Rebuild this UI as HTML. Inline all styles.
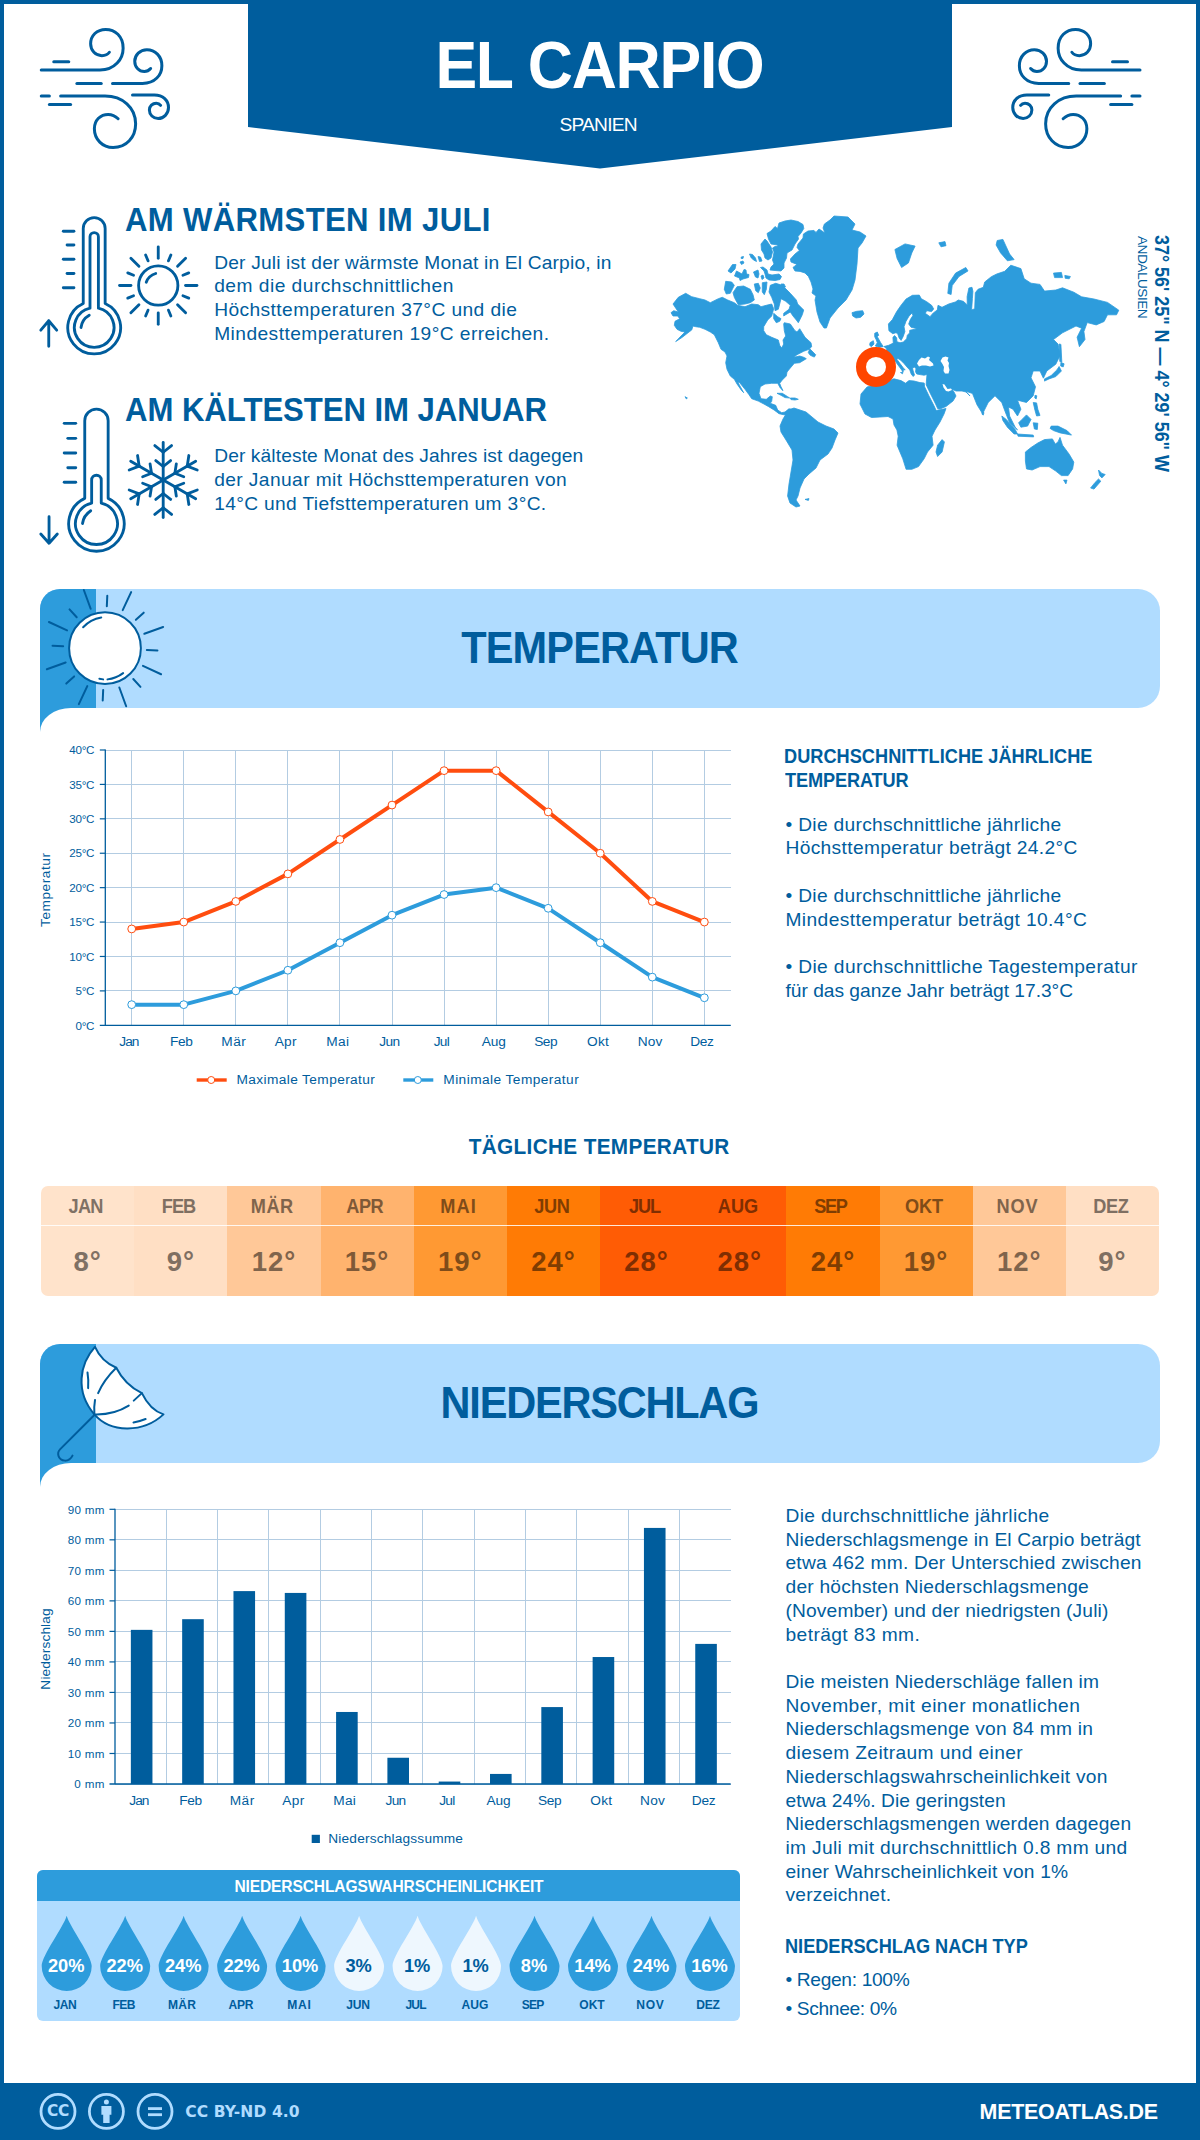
<!DOCTYPE html>
<html lang="de"><head><meta charset="utf-8"><title>El Carpio – Klima</title><style>
html,body{margin:0;padding:0;background:#fff}
body{width:1200px;height:2140px;overflow:hidden;font-family:"Liberation Sans", sans-serif;color:#005d9d}
#page{position:relative;width:1200px;height:2140px;overflow:hidden;background:#fff}
#frame{position:absolute;left:0;top:0;width:1200px;height:2140px;box-sizing:border-box;border:4px solid #005d9d;pointer-events:none}
.abs{position:absolute}
.t{position:absolute;width:0;height:0}
.t span{position:absolute;white-space:pre;line-height:1;display:block}
</style></head><body><div id="page">
<svg class="abs" style="left:0;top:0" width="1200" height="180" viewBox="0 0 1200 180"><polygon points="248,0 952,0 952,127 600,168.5 248,127" fill="#005d9d"/></svg>
<svg class="abs" style="left:30px;top:20px" width="150" height="140" viewBox="0 0 1200 1120"><g fill="none" stroke="#005d9d" stroke-width="24" stroke-linecap="round" stroke-linejoin="round"><path d="M190,333 L310,333"/><path d="M90,400 L560,400 C680,400 745,310 745,225 C745,130 680,75 605,75 C535,75 485,125 485,190 C485,245 525,285 575,285 C605,285 625,272 635,258"/><path d="M375,507 L570,507"/><path d="M660,507 L900,507 C1000,507 1055,440 1055,365 C1055,290 1000,238 935,238 C880,238 838,280 838,330 C838,375 870,412 915,412 C940,412 955,400 965,388"/><path d="M90,608 L155,608"/><path d="M245,608 L600,608 C740,608 845,700 845,830 C845,940 770,1020 665,1020 C580,1020 515,955 515,870 C515,800 565,755 625,755 C660,755 685,770 705,790"/><path d="M155,675 L325,675"/><path d="M820,600 L995,600 C1065,600 1108,645 1108,700 C1108,750 1070,788 1025,788 C985,788 955,757 955,720 C955,690 980,665 1010,665 C1025,665 1038,673 1045,683"/></g></svg>
<svg class="abs" style="left:1000px;top:20px" width="150" height="140" viewBox="0 0 1200 1120"><g transform="translate(1210,0) scale(-1,1)" fill="none" stroke="#005d9d" stroke-width="24" stroke-linecap="round" stroke-linejoin="round"><path d="M190,333 L310,333"/><path d="M90,400 L560,400 C680,400 745,310 745,225 C745,130 680,75 605,75 C535,75 485,125 485,190 C485,245 525,285 575,285 C605,285 625,272 635,258"/><path d="M375,507 L570,507"/><path d="M660,507 L900,507 C1000,507 1055,440 1055,365 C1055,290 1000,238 935,238 C880,238 838,280 838,330 C838,375 870,412 915,412 C940,412 955,400 965,388"/><path d="M90,608 L155,608"/><path d="M245,608 L600,608 C740,608 845,700 845,830 C845,940 770,1020 665,1020 C580,1020 515,955 515,870 C515,800 565,755 625,755 C660,755 685,770 705,790"/><path d="M155,675 L325,675"/><path d="M820,600 L995,600 C1065,600 1108,645 1108,700 C1108,750 1070,788 1025,788 C985,788 955,757 955,720 C955,690 980,665 1010,665 C1025,665 1038,673 1045,683"/></g></svg>
<svg class="abs" style="left:30px;top:200px" width="180" height="170" viewBox="0 0 1200 1133.33"><g fill="none" stroke="#005d9d" stroke-width="19" stroke-linecap="round" stroke-linejoin="round"><path d="M355,689.8531923515177 L355,190 A73,73 0 0 1 501,190 L501,689.8531923515177 A176,176 0 1 1 355,689.8531923515177 Z"/><path d="M400,721.0038760272232 L400,245 A28,28 0 0 1 456,245 L456,721.0038760272232 A132,132 0 1 1 400,721.0038760272232 Z"/><path d="M222,208 L293,208"/><path d="M247,300 L293,300"/><path d="M222,395 L293,395"/><path d="M247,490 L293,490"/><path d="M222,585 L293,585"/><path d="M125,975 L125,805 M72,868 L125,805 L178,868"/><path d="M340,850 C345,810 365,785 395,768"/><circle cx="855" cy="570" r="131"/><path d="M775,548 C785,520 805,500 838,490"/><path d="M855.0,388.0 L855.0,312.0"/><path d="M923.1,405.5 L939.2,366.7"/><path d="M983.7,441.3 L1037.4,387.6"/><path d="M1019.5,501.9 L1058.3,485.8"/><path d="M1037.0,570.0 L1113.0,570.0"/><path d="M1019.5,638.1 L1058.3,654.2"/><path d="M983.7,698.7 L1037.4,752.4"/><path d="M923.1,734.5 L939.2,773.3"/><path d="M855.0,752.0 L855.0,828.0"/><path d="M786.9,734.5 L770.8,773.3"/><path d="M726.3,698.7 L672.6,752.4"/><path d="M690.5,638.1 L651.7,654.2"/><path d="M673.0,570.0 L597.0,570.0"/><path d="M690.5,501.9 L651.7,485.8"/><path d="M726.3,441.3 L672.6,387.6"/><path d="M786.9,405.5 L770.8,366.7"/></g></svg>
<svg class="abs" style="left:30px;top:390px" width="180" height="170" viewBox="0 0 1200 1133.33"><g fill="none" stroke="#005d9d" stroke-width="19" stroke-linecap="round" stroke-linejoin="round"><path d="M365,722.2472056864626 L365,205 A78,78 0 0 1 521,205 L521,722.2472056864626 A185,185 0 1 1 365,722.2472056864626 Z"/><path d="M411,753.7061997007934 L411,600 A32,32 0 0 1 475,600 L475,753.7061997007934 A140,140 0 1 1 411,753.7061997007934 Z"/><path d="M228,222 L305,222"/><path d="M252,322 L305,322"/><path d="M228,420 L305,420"/><path d="M252,518 L305,518"/><path d="M228,615 L305,615"/><path d="M127,845 L127,1020 M72,960 L127,1022 L182,960"/><path d="M350,890 C355,850 375,825 405,805"/><path d="M888,600 L888.0,350.0"/><path d="M888.0,415.0 L832.2,370.4"/><path d="M888.0,415.0 L943.8,370.4"/><path d="M888.0,510.0 L838.5,470.4"/><path d="M888.0,510.0 L937.5,470.4"/><path d="M888,600 L1104.5,475.0"/><path d="M1048.2,507.5 L1059.0,436.9"/><path d="M1048.2,507.5 L1114.8,533.5"/><path d="M965.9,555.0 L975.5,492.3"/><path d="M965.9,555.0 L1025.0,578.1"/><path d="M888,600 L1104.5,725.0"/><path d="M1048.2,692.5 L1114.8,666.5"/><path d="M1048.2,692.5 L1059.0,763.1"/><path d="M965.9,645.0 L1025.0,621.9"/><path d="M965.9,645.0 L975.5,707.7"/><path d="M888,600 L888.0,850.0"/><path d="M888.0,785.0 L943.8,829.6"/><path d="M888.0,785.0 L832.2,829.6"/><path d="M888.0,690.0 L937.5,729.6"/><path d="M888.0,690.0 L838.5,729.6"/><path d="M888,600 L671.5,725.0"/><path d="M727.8,692.5 L717.0,763.1"/><path d="M727.8,692.5 L661.2,666.5"/><path d="M810.1,645.0 L800.5,707.7"/><path d="M810.1,645.0 L751.0,621.9"/><path d="M888,600 L671.5,475.0"/><path d="M727.8,507.5 L661.2,533.5"/><path d="M727.8,507.5 L717.0,436.9"/><path d="M810.1,555.0 L751.0,578.1"/><path d="M810.1,555.0 L800.5,492.3"/></g></svg>
<svg class="abs" style="left:0;top:0" width="1200" height="560" viewBox="0 0 1200 560"><g fill="#2d9cdc" stroke="#2d9cdc" stroke-width="0.8" stroke-linejoin="round"><polygon points="671.0,312.7 673.7,310.7 678.3,312.0 673.0,304.0 678.3,297.3 685.7,293.3 691.7,296.7 699.7,298.7 705.0,300.0 710.3,302.7 718.3,298.7 722.3,297.3 727.7,300.0 734.3,302.7 737.7,305.3 745.0,306.7 751.7,304.0 758.3,304.7 761.0,306.7 766.3,305.3 771.7,304.0 773.7,308.7 771.7,316.0 767.7,320.0 763.7,326.7 763.7,330.7 766.3,334.7 771.7,337.3 778.3,340.0 779.7,345.3 781.7,348.0 783.7,344.0 783.0,340.0 785.7,336.0 784.3,330.7 783.7,324.0 784.3,322.7 790.3,324.0 795.0,330.7 797.0,332.0 799.7,328.7 805.0,337.3 811.0,342.7 811.7,346.7 809.0,349.3 803.7,351.3 797.0,354.7 793.7,357.3 799.7,356.0 803.7,357.3 806.3,358.7 799.7,362.7 794.3,363.3 790.3,368.0 787.0,372.0 786.3,376.0 782.3,380.0 779.7,383.3 781.0,386.7 783.0,390.7 780.3,388.0 777.7,383.3 771.7,383.3 765.0,384.0 760.3,386.7 759.0,393.3 761.0,398.7 766.3,399.3 770.3,396.0 772.3,396.7 771.7,401.3 770.3,403.3 775.7,405.3 777.7,410.0 781.7,412.7 785.0,412.0 789.0,408.7 793.0,410.0 787.7,414.9 783.7,414.7 779.0,413.7 774.1,410.0 768.7,406.7 763.9,404.0 758.3,401.1 751.7,398.7 749.0,394.7 745.0,389.3 739.7,382.7 737.7,382.0 743.7,392.7 741.7,390.7 737.0,384.0 734.3,379.3 730.3,376.0 727.0,369.3 725.7,362.7 727.0,356.0 725.0,352.0 721.0,349.3 718.3,342.7 714.3,334.7 710.3,332.0 705.0,329.3 699.7,327.3 695.7,326.7 693.0,326.0 691.7,330.0 689.0,332.0 682.3,337.3 675.7,341.6 681.0,336.0 685.0,332.0 681.0,331.3 677.0,329.3 674.3,325.3 675.0,321.3 679.7,318.7 677.7,316.0 673.0,316.0"/><polygon points="809.7,348.7 813.0,352.0 815.7,354.7 814.3,357.1 810.3,355.3 808.3,352.7"/><polygon points="733.0,292.7 737.0,286.7 743.7,286.0 750.3,289.3 753.0,294.7 754.3,300.0 750.3,302.7 745.0,304.0 738.3,304.7 735.7,300.0 734.3,297.3"/><polygon points="725.7,281.3 731.7,282.0 734.3,285.3 730.3,293.3 726.3,294.0 724.3,289.3"/><polygon points="754.3,284.0 758.3,283.3 760.3,288.0 758.3,292.7 755.7,290.7"/><polygon points="762.3,282.7 767.0,282.0 766.3,289.3 764.3,294.7 762.3,292.0"/><polygon points="770.3,285.3 775.7,283.3 782.3,285.3 785.0,288.0 790.3,293.3 796.3,300.0 797.7,304.0 803.7,310.0 802.3,314.7 799.7,320.0 798.3,322.7 796.3,320.0 793.0,316.0 790.3,312.0 785.7,314.7 783.7,316.0 783.7,313.3 789.0,309.3 790.3,305.3 785.7,301.3 781.0,298.7 779.7,304.0 778.3,309.3 775.0,310.7 774.3,304.0 771.7,297.3 769.0,292.0"/><polygon points="773.7,313.3 777.7,316.7 781.0,318.7 779.7,321.3 776.3,322.7 773.7,318.7"/><polygon points="777.0,393.3 782.3,393.3 787.7,396.7 789.7,398.0 785.0,397.6 781.0,395.3"/><polygon points="790.3,398.0 795.0,398.0 798.3,399.3 795.0,400.0 791.0,399.6"/><polygon points="685.0,396.7 687.4,398.0 686.3,398.9"/><polygon points="767.0,233.5 771.0,231.0 775.0,226.5 777.5,228.5 779.0,223.0 785.0,221.0 791.0,220.0 798.0,221.5 803.0,224.5 803.8,228.5 801.0,233.0 798.0,236.5 798.5,239.0 795.0,244.0 792.0,250.0 787.0,253.0 786.5,258.0 784.0,263.0 784.0,268.0 781.0,271.0 775.0,270.5 770.0,270.0 771.0,267.0 774.0,264.0 772.5,260.0 773.5,255.0 774.0,252.0 772.5,248.0 775.0,246.5 778.0,246.0 777.5,245.0 771.0,244.0 768.5,239.0"/><polygon points="761.0,244.0 765.0,239.0 767.0,241.0 771.0,247.0 772.5,252.0 771.0,258.0 768.0,260.0 765.0,258.0 764.0,254.0 761.5,250.0"/><polygon points="760.5,267.5 763.0,267.0 767.0,270.0 768.0,274.0 772.0,275.0 779.0,274.0 781.5,276.5 780.0,279.5 775.0,280.5 769.0,280.0 766.0,278.0 765.0,274.0 764.0,271.0"/><polygon points="749.5,254.0 752.5,254.5 755.5,258.0 756.5,261.5 753.5,260.0 751.0,257.5"/><polygon points="758.0,256.5 760.5,257.0 762.0,261.0 759.5,261.5"/><polygon points="741.2,257.0 743.5,256.5 743.0,258.5 741.2,258.5"/><polygon points="740.0,262.0 743.0,261.0 744.0,263.0 741.5,264.5"/><polygon points="728.0,271.0 732.5,264.5 736.0,264.5 735.0,269.0 731.0,273.0"/><polygon points="734.5,276.0 736.5,271.0 742.0,274.0 744.0,269.5 746.0,270.0 746.5,274.0 749.0,274.5 748.5,277.5 743.0,279.0 740.0,280.5 739.5,278.0"/><polygon points="753.5,272.0 758.0,270.0 759.0,274.0 758.0,278.0 755.5,277.0"/><polygon points="761.0,276.0 763.0,275.0 764.0,278.0 762.0,279.5"/><polygon points="781.0,284.0 784.0,284.0 785.5,287.0 783.0,287.0"/><polygon points="834.0,216.0 830.0,220.0 824.4,224.0 823.0,228.0 825.0,233.0 819.0,229.0 816.0,232.4 814.0,230.4 808.0,231.0 803.4,234.0 803.0,238.0 798.0,244.0 797.0,247.4 799.4,250.4 795.0,254.0 790.4,259.0 791.0,262.0 797.0,264.4 793.0,267.4 795.0,271.0 800.0,271.4 805.0,273.0 808.4,276.4 811.0,282.0 813.0,289.0 812.0,293.0 816.0,296.0 815.0,300.0 817.0,312.0 820.0,322.0 824.0,328.0 826.4,328.0 830.0,318.0 838.0,308.0 846.0,300.0 852.0,290.0 855.0,280.0 857.0,264.0 858.0,248.0 862.0,243.0 866.0,236.0 860.0,232.0 852.0,230.0 855.0,224.0 848.0,217.0"/><polygon points="852.0,312.7 856.7,311.3 862.7,310.7 864.0,314.0 860.7,317.3 856.0,318.0 852.7,316.0"/><polygon points="788.0,410.0 794.0,408.0 800.0,410.0 806.0,412.0 812.0,417.0 818.0,422.0 826.0,426.0 834.0,429.0 838.0,433.0 835.0,440.0 832.0,448.0 828.0,454.0 820.0,460.0 816.0,468.0 809.0,474.0 804.0,479.0 800.0,488.0 798.0,496.0 796.0,500.0 800.0,506.0 796.0,507.0 790.0,503.0 787.6,496.0 789.0,484.0 791.0,472.0 793.0,460.0 792.0,450.0 786.0,440.0 781.0,432.0 780.0,426.0 783.0,419.0 786.0,414.0"/><polygon points="805.0,499.4 809.0,498.6 808.4,500.4"/><polygon points="886.7,348.9 884.0,346.5 888.7,345.3 893.3,343.1 892.9,337.3 894.7,335.6 896.7,338.0 896.9,341.7 900.0,342.8 903.3,342.0 906.7,338.7 907.3,335.3 909.6,332.9 909.7,330.3 917.3,328.7 911.1,327.3 908.7,324.0 910.3,319.6 912.9,315.6 912.1,312.9 909.1,316.0 906.0,321.3 904.0,326.7 904.9,331.6 903.1,336.7 901.1,340.4 899.1,338.0 897.7,333.7 896.0,332.7 892.7,333.7 888.9,330.7 888.4,324.0 892.4,319.6 896.7,311.6 901.3,304.9 906.0,299.1 912.4,295.3 919.3,295.1 921.3,298.7 926.7,301.7 931.6,305.3 933.7,308.9 931.6,311.6 926.7,310.7 925.3,313.3 930.0,316.7 933.3,312.9 937.3,310.0 938.0,305.3 942.0,307.3 948.7,304.0 955.3,302.0 958.3,300.0 963.3,301.3 967.3,304.9 967.1,296.7 968.9,288.0 972.0,287.3 972.9,291.3 972.4,298.7 971.6,310.0 974.7,308.7 975.3,292.7 978.0,289.3 983.3,287.3 984.7,282.0 991.3,276.7 996.7,274.0 1004.7,271.3 1010.8,265.2 1020.9,268.6 1024.2,278.8 1031.0,283.2 1040.0,284.4 1044.5,291.1 1055.8,290.0 1062.5,287.8 1073.8,292.2 1081.6,296.8 1094.0,299.0 1107.5,302.4 1118.8,310.2 1116.5,314.8 1107.5,314.8 1104.1,321.5 1096.2,324.9 1087.2,322.6 1083.9,331.6 1085.0,339.5 1079.4,346.7 1077.1,337.2 1081.6,328.2 1076.0,326.0 1062.5,332.8 1053.5,339.5 1058.0,344.0 1060.2,355.2 1055.8,364.2 1046.8,371.0 1043.4,378.2 1040.0,371.0 1033.2,371.0 1031.0,377.8 1035.5,386.8 1033.2,395.8 1026.5,402.5 1017.5,400.2 1020.9,409.2 1017.5,416.0 1013.0,409.2 1008.5,407.0 1009.6,416.0 1015.2,427.2 1017.5,429.9 1009.6,422.8 1005.1,411.5 1001.8,402.5 995.0,395.8 988.2,402.5 982.6,413.8 977.0,404.8 972.5,393.5 965.8,391.2 970.0,396.0 966.0,392.0 962.0,391.0 956.0,391.0 952.0,389.2 954.0,392.0 956.0,396.0 953.0,401.0 946.0,406.5 940.0,409.0 937.8,408.8 935.6,404.0 930.6,394.0 926.2,384.8 926.5,380.0 927.0,374.5 924.0,375.2 920.0,374.6 916.8,374.0 915.5,371.8 916.0,368.5 914.5,367.2 912.5,368.0 913.2,371.0 914.5,375.0 913.2,376.5 911.2,374.0 909.8,370.0 907.0,367.0 904.0,363.5 900.5,360.0 898.0,358.5 897.0,359.5 900.0,363.5 903.0,367.5 905.2,370.0 903.5,369.5 903.0,372.0 901.0,369.0 898.0,365.0 895.5,361.5 894.0,360.0 894.0,366.0 890.0,375.3 882.0,378.0 872.7,376.7 870.0,368.7 872.0,360.7 883.3,361.3 886.7,356.7"/><polygon points="883.0,383.0 894.0,378.8 897.0,379.6 901.0,380.6 905.5,383.2 909.0,380.6 914.0,381.0 920.0,382.6 924.2,383.0 924.6,386.8 929.0,396.0 934.0,405.8 936.2,410.6 946.0,408.5 944.0,414.0 940.0,422.0 935.0,430.0 932.0,436.2 933.1,445.2 927.5,452.0 924.1,458.8 918.5,466.6 911.8,469.3 906.1,469.3 902.8,458.8 897.1,445.2 898.2,436.2 896.9,429.9 894.0,425.0 893.0,419.0 888.0,416.5 880.0,417.0 871.5,417.5 865.0,414.0 860.0,404.0 861.0,394.0 867.0,387.0"/><polygon points="942.1,439.6 944.4,441.9 942.1,452.0 937.6,456.5 936.0,452.0 937.6,445.2"/><polygon points="874.7,333.3 877.3,332.0 878.7,335.3 877.3,336.7 880.7,342.7 883.3,346.7 878.7,347.3 875.3,346.0 877.3,342.7 876.0,339.3 874.7,336.7"/><polygon points="870.0,342.7 873.3,340.7 874.0,344.0 871.3,346.7 869.7,345.3"/><polygon points="900.5,372.5 903.0,372.2 902.5,373.8"/><polygon points="894.9,249.5 905.0,243.9 915.1,246.1 911.8,252.9 908.4,263.0 901.6,267.5 897.1,258.5"/><polygon points="938.8,242.8 945.0,241.6 946.0,245.7 941.0,246.8"/><polygon points="965.8,267.5 968.0,270.9 959.0,276.5 952.2,285.5 951.1,294.5 947.8,293.4 948.9,283.2 955.6,273.1"/><polygon points="997.2,240.5 1002.9,239.4 1009.6,254.0 1014.1,259.6 1007.4,260.8 1000.6,252.9 996.1,245.0"/><polygon points="1053.5,273.1 1061.4,272.4 1062.5,277.6 1054.6,277.6"/><polygon points="1064.8,275.4 1070.4,276.5 1069.2,278.8 1065.2,278.3"/><polygon points="1059.1,344.0 1060.9,344.4 1061.8,362.0 1059.8,361.5"/><polygon points="1060.9,362.4 1064.1,363.8 1063.2,366.9 1060.7,366.0"/><polygon points="1059.1,366.5 1061.4,371.0 1055.8,376.6 1049.0,378.9 1044.5,381.1 1044.5,378.9 1051.2,375.5 1056.9,369.9"/><polygon points="1035.0,395.3 1036.8,395.8 1036.2,398.9 1034.8,398.0"/><polygon points="1033.2,402.5 1036.6,402.9 1037.8,409.2 1040.0,415.5 1036.6,416.0 1035.0,410.4"/><polygon points="1026.5,414.9 1031.0,419.4 1027.6,426.1 1020.9,427.2 1018.6,422.8 1022.0,419.4"/><polygon points="1001.8,416.0 1006.2,419.4 1015.2,429.5 1017.5,434.0 1014.1,434.0 1007.4,427.2 1002.9,420.5"/><polygon points="1017.5,434.0 1033.2,435.1 1033.7,436.9 1018.0,436.2"/><polygon points="1033.2,422.8 1037.8,423.2 1037.3,429.5 1034.4,429.0"/><polygon points="1051.2,426.1 1058.0,426.1 1067.0,430.6 1071.5,435.1 1065.9,434.0 1060.2,432.9 1053.5,430.6 1050.1,428.4"/><polygon points="982.2,411.5 984.0,412.6 983.3,415.1 982.0,414.2"/><polygon points="1025.4,452.0 1031.0,447.5 1037.8,443.0 1044.5,439.6 1052.4,438.9 1055.3,444.1 1058.0,441.9 1060.0,437.4 1062.5,445.2 1069.2,454.2 1073.8,462.1 1072.6,468.9 1068.1,475.6 1061.4,475.6 1055.8,471.1 1049.0,466.6 1040.0,466.6 1032.1,470.0 1026.5,468.9 1025.4,461.0"/><polygon points="1063.6,480.1 1067.0,480.1 1065.9,483.9"/><polygon points="1098.5,470.0 1101.9,473.4 1105.2,474.5 1101.9,477.9 1099.6,475.6"/><polygon points="1098.5,479.0 1100.8,481.2 1094.0,489.1 1090.6,488.0 1095.1,482.4"/></g><g fill="#fff"><polygon points="917.0,363.5 919.0,360.0 921.5,357.5 925.0,358.5 928.0,356.5 930.0,357.5 929.0,360.0 933.0,363.5 933.5,365.5 930.0,366.5 926.0,365.5 922.0,365.5 919.0,366.5"/><polygon points="940.5,361.0 942.5,357.5 945.5,356.5 948.5,357.5 947.5,360.5 949.0,363.0 948.5,366.0 949.5,370.0 948.5,373.5 945.0,373.5 943.5,371.0 944.0,367.0 942.5,364.0"/><polygon points="942.5,384.0 944.5,384.5 947.5,389.0 951.0,388.5 952.0,390.0 948.5,391.5 946.0,391.0 943.5,387.5"/></g><circle cx="876" cy="366.9" r="15" fill="#fff" stroke="#ff4500" stroke-width="10"/></svg>
<div class="abs" style="left:40px;top:589px;width:1120px;height:118.75px;background:#b0dcff;border-radius:20px 22px 22px 0"></div><div class="abs" style="left:40px;top:589px;width:56px;height:142.75px;background:#2d9cdc;border-radius:20px 0 0 0"></div><div class="abs" style="left:40px;top:707.75px;width:80px;height:30px;background:#fff;border-radius:31px 0 0 0 / 24px 0 0 0"></div><svg class="abs" style="left:30px;top:580px" width="150" height="160" viewBox="0 0 1200 1280"><g fill="none" stroke="#005d9d" stroke-width="16" stroke-linecap="round"><circle cx="600" cy="545" r="287" fill="#fff"/><path d="M425,378 A255,255 0 0 1 570,300"/><path d="M620,795 A255,255 0 0 0 745,745"/><path d="M555,790 L585,795"/><path d="M614.6,210.3 L618.3,125.4"/><path d="M741.6,241.4 L809.2,96.4"/><path d="M847.0,318.7 L909.7,261.3"/><path d="M914.8,430.4 L1065.1,375.7"/><path d="M934.7,559.6 L1019.6,563.3"/><path d="M903.6,686.6 L1048.6,754.2"/><path d="M826.3,792.0 L883.7,854.7"/><path d="M714.6,859.8 L769.3,1010.1"/><path d="M585.4,879.7 L581.7,964.6"/><path d="M458.4,848.6 L390.8,993.6"/><path d="M353.0,771.3 L290.3,828.7"/><path d="M285.2,659.6 L134.9,714.3"/><path d="M265.3,530.4 L180.4,526.7"/><path d="M296.4,403.4 L151.4,335.8"/><path d="M373.7,298.0 L316.3,235.3"/><path d="M485.4,230.2 L430.7,79.9"/></g></svg>
<div class="abs" style="left:40px;top:1344px;width:1120px;height:118.75px;background:#b0dcff;border-radius:20px 22px 22px 0"></div><div class="abs" style="left:40px;top:1344px;width:56px;height:142.75px;background:#2d9cdc;border-radius:20px 0 0 0"></div><div class="abs" style="left:40px;top:1462.75px;width:80px;height:30px;background:#fff;border-radius:31px 0 0 0 / 24px 0 0 0"></div><svg class="abs" style="left:30px;top:1335px" width="150" height="160" viewBox="0 0 1200 1280"><g fill="none" stroke="#005d9d" stroke-width="16" stroke-linecap="round" stroke-linejoin="round"><path d="M520,95 C398,230 358,452 515,635 C640,780 900,790 1068,635 Q960,600 895,465 Q760,400 690,262 Q570,210 520,95 Z" fill="#fff"/><path d="M690,262 Q590,360 545,465"/><path d="M520,520 Q510,580 515,635"/><path d="M515,635 Q670,640 790,565"/><path d="M830,525 L895,465"/><path d="M460,300 Q470,360 465,425"/><path d="M828,700 Q880,690 925,672"/><path d="M515,640 L240,915 C215,940 220,1000 280,1005 C310,1005 330,985 340,965"/></g></svg>
<svg class="abs" style="left:0;top:0" width="1200" height="2140" viewBox="0 0 1200 2140"><path d="M105.3,1025.30 L730.7,1025.30" stroke="#b3cce2" stroke-width="1" shape-rendering="crispEdges"/><path d="M105.3,990.89 L730.7,990.89" stroke="#b3cce2" stroke-width="1" shape-rendering="crispEdges"/><path d="M105.3,956.47 L730.7,956.47" stroke="#b3cce2" stroke-width="1" shape-rendering="crispEdges"/><path d="M105.3,922.06 L730.7,922.06" stroke="#b3cce2" stroke-width="1" shape-rendering="crispEdges"/><path d="M105.3,887.65 L730.7,887.65" stroke="#b3cce2" stroke-width="1" shape-rendering="crispEdges"/><path d="M105.3,853.24 L730.7,853.24" stroke="#b3cce2" stroke-width="1" shape-rendering="crispEdges"/><path d="M105.3,818.83 L730.7,818.83" stroke="#b3cce2" stroke-width="1" shape-rendering="crispEdges"/><path d="M105.3,784.41 L730.7,784.41" stroke="#b3cce2" stroke-width="1" shape-rendering="crispEdges"/><path d="M105.3,750.00 L730.7,750.00" stroke="#b3cce2" stroke-width="1" shape-rendering="crispEdges"/><path d="M131.70,750 L131.70,1025.3" stroke="#b3cce2" stroke-width="1" shape-rendering="crispEdges"/><path d="M183.76,750 L183.76,1025.3" stroke="#b3cce2" stroke-width="1" shape-rendering="crispEdges"/><path d="M235.82,750 L235.82,1025.3" stroke="#b3cce2" stroke-width="1" shape-rendering="crispEdges"/><path d="M287.88,750 L287.88,1025.3" stroke="#b3cce2" stroke-width="1" shape-rendering="crispEdges"/><path d="M339.94,750 L339.94,1025.3" stroke="#b3cce2" stroke-width="1" shape-rendering="crispEdges"/><path d="M392.00,750 L392.00,1025.3" stroke="#b3cce2" stroke-width="1" shape-rendering="crispEdges"/><path d="M444.06,750 L444.06,1025.3" stroke="#b3cce2" stroke-width="1" shape-rendering="crispEdges"/><path d="M496.12,750 L496.12,1025.3" stroke="#b3cce2" stroke-width="1" shape-rendering="crispEdges"/><path d="M548.18,750 L548.18,1025.3" stroke="#b3cce2" stroke-width="1" shape-rendering="crispEdges"/><path d="M600.24,750 L600.24,1025.3" stroke="#b3cce2" stroke-width="1" shape-rendering="crispEdges"/><path d="M652.30,750 L652.30,1025.3" stroke="#b3cce2" stroke-width="1" shape-rendering="crispEdges"/><path d="M704.36,750 L704.36,1025.3" stroke="#b3cce2" stroke-width="1" shape-rendering="crispEdges"/><path d="M105.3,749.5 L105.3,1025.3 M99.8,1025.3 L730.7,1025.3" stroke="#005d9d" stroke-width="1.3" fill="none"/><path d="M99.8,990.89 L105.3,990.89" stroke="#005d9d" stroke-width="1.2"/><path d="M99.8,956.47 L105.3,956.47" stroke="#005d9d" stroke-width="1.2"/><path d="M99.8,922.06 L105.3,922.06" stroke="#005d9d" stroke-width="1.2"/><path d="M99.8,887.65 L105.3,887.65" stroke="#005d9d" stroke-width="1.2"/><path d="M99.8,853.24 L105.3,853.24" stroke="#005d9d" stroke-width="1.2"/><path d="M99.8,818.83 L105.3,818.83" stroke="#005d9d" stroke-width="1.2"/><path d="M99.8,784.41 L105.3,784.41" stroke="#005d9d" stroke-width="1.2"/><path d="M99.8,750.00 L105.3,750.00" stroke="#005d9d" stroke-width="1.2"/><polyline points="131.70,928.94 183.76,922.06 235.82,901.41 287.88,873.88 339.94,839.47 392.00,805.06 444.06,770.65 496.12,770.65 548.18,811.94 600.24,853.24 652.30,901.41 704.36,922.06" fill="none" stroke="#ff4d0f" stroke-width="4" stroke-linejoin="round"/><circle cx="131.70" cy="928.94" r="3.9" fill="#fff" stroke="#ff4d0f" stroke-width="1"/><circle cx="183.76" cy="922.06" r="3.9" fill="#fff" stroke="#ff4d0f" stroke-width="1"/><circle cx="235.82" cy="901.41" r="3.9" fill="#fff" stroke="#ff4d0f" stroke-width="1"/><circle cx="287.88" cy="873.88" r="3.9" fill="#fff" stroke="#ff4d0f" stroke-width="1"/><circle cx="339.94" cy="839.47" r="3.9" fill="#fff" stroke="#ff4d0f" stroke-width="1"/><circle cx="392.00" cy="805.06" r="3.9" fill="#fff" stroke="#ff4d0f" stroke-width="1"/><circle cx="444.06" cy="770.65" r="3.9" fill="#fff" stroke="#ff4d0f" stroke-width="1"/><circle cx="496.12" cy="770.65" r="3.9" fill="#fff" stroke="#ff4d0f" stroke-width="1"/><circle cx="548.18" cy="811.94" r="3.9" fill="#fff" stroke="#ff4d0f" stroke-width="1"/><circle cx="600.24" cy="853.24" r="3.9" fill="#fff" stroke="#ff4d0f" stroke-width="1"/><circle cx="652.30" cy="901.41" r="3.9" fill="#fff" stroke="#ff4d0f" stroke-width="1"/><circle cx="704.36" cy="922.06" r="3.9" fill="#fff" stroke="#ff4d0f" stroke-width="1"/><polyline points="131.70,1004.65 183.76,1004.65 235.82,990.89 287.88,970.24 339.94,942.71 392.00,915.18 444.06,894.53 496.12,887.65 548.18,908.30 600.24,942.71 652.30,977.12 704.36,997.77" fill="none" stroke="#2d9cdc" stroke-width="4" stroke-linejoin="round"/><circle cx="131.70" cy="1004.65" r="3.9" fill="#fff" stroke="#2d9cdc" stroke-width="1"/><circle cx="183.76" cy="1004.65" r="3.9" fill="#fff" stroke="#2d9cdc" stroke-width="1"/><circle cx="235.82" cy="990.89" r="3.9" fill="#fff" stroke="#2d9cdc" stroke-width="1"/><circle cx="287.88" cy="970.24" r="3.9" fill="#fff" stroke="#2d9cdc" stroke-width="1"/><circle cx="339.94" cy="942.71" r="3.9" fill="#fff" stroke="#2d9cdc" stroke-width="1"/><circle cx="392.00" cy="915.18" r="3.9" fill="#fff" stroke="#2d9cdc" stroke-width="1"/><circle cx="444.06" cy="894.53" r="3.9" fill="#fff" stroke="#2d9cdc" stroke-width="1"/><circle cx="496.12" cy="887.65" r="3.9" fill="#fff" stroke="#2d9cdc" stroke-width="1"/><circle cx="548.18" cy="908.30" r="3.9" fill="#fff" stroke="#2d9cdc" stroke-width="1"/><circle cx="600.24" cy="942.71" r="3.9" fill="#fff" stroke="#2d9cdc" stroke-width="1"/><circle cx="652.30" cy="977.12" r="3.9" fill="#fff" stroke="#2d9cdc" stroke-width="1"/><circle cx="704.36" cy="997.77" r="3.9" fill="#fff" stroke="#2d9cdc" stroke-width="1"/><path d="M196.7,1080 L226.7,1080" stroke="#ff4d0f" stroke-width="3.4"/><circle cx="211.2" cy="1080" r="3.5" fill="#fff" stroke="#ff4d0f" stroke-width="1"/><path d="M403.3,1080 L433.3,1080" stroke="#2d9cdc" stroke-width="3.4"/><circle cx="417.8" cy="1080" r="3.5" fill="#fff" stroke="#2d9cdc" stroke-width="1"/></svg>
<div class="abs" style="left:41px;top:1186px;width:1118px;height:110px;border-radius:7px;overflow:hidden"><div class="abs" style="left:0.00px;top:0;width:93.67px;height:110px;background:#ffe3cb"></div><div class="abs" style="left:93.17px;top:0;width:93.67px;height:110px;background:#ffdfc4"></div><div class="abs" style="left:186.33px;top:0;width:93.67px;height:110px;background:#ffc898"></div><div class="abs" style="left:279.50px;top:0;width:93.67px;height:110px;background:#ffb36e"></div><div class="abs" style="left:372.67px;top:0;width:93.67px;height:110px;background:#ff9933"></div><div class="abs" style="left:465.83px;top:0;width:93.67px;height:110px;background:#ff7b05"></div><div class="abs" style="left:559.00px;top:0;width:93.67px;height:110px;background:#ff5c05"></div><div class="abs" style="left:652.17px;top:0;width:93.67px;height:110px;background:#ff5c05"></div><div class="abs" style="left:745.33px;top:0;width:93.67px;height:110px;background:#ff7b05"></div><div class="abs" style="left:838.50px;top:0;width:93.67px;height:110px;background:#ff9933"></div><div class="abs" style="left:931.67px;top:0;width:93.67px;height:110px;background:#ffc898"></div><div class="abs" style="left:1024.83px;top:0;width:93.67px;height:110px;background:#ffdfc4"></div><div class="abs" style="left:0;top:39px;width:1118px;height:1.3px;background:rgba(255,255,255,.85)"></div></div>
<svg class="abs" style="left:0;top:0" width="1200" height="2140" viewBox="0 0 1200 2140"><path d="M115.0,1784.00 L730.7,1784.00" stroke="#b3cce2" stroke-width="1" shape-rendering="crispEdges"/><path d="M115.0,1753.48 L730.7,1753.48" stroke="#b3cce2" stroke-width="1" shape-rendering="crispEdges"/><path d="M115.0,1722.96 L730.7,1722.96" stroke="#b3cce2" stroke-width="1" shape-rendering="crispEdges"/><path d="M115.0,1692.43 L730.7,1692.43" stroke="#b3cce2" stroke-width="1" shape-rendering="crispEdges"/><path d="M115.0,1661.91 L730.7,1661.91" stroke="#b3cce2" stroke-width="1" shape-rendering="crispEdges"/><path d="M115.0,1631.39 L730.7,1631.39" stroke="#b3cce2" stroke-width="1" shape-rendering="crispEdges"/><path d="M115.0,1600.87 L730.7,1600.87" stroke="#b3cce2" stroke-width="1" shape-rendering="crispEdges"/><path d="M115.0,1570.34 L730.7,1570.34" stroke="#b3cce2" stroke-width="1" shape-rendering="crispEdges"/><path d="M115.0,1539.82 L730.7,1539.82" stroke="#b3cce2" stroke-width="1" shape-rendering="crispEdges"/><path d="M115.0,1509.30 L730.7,1509.30" stroke="#b3cce2" stroke-width="1" shape-rendering="crispEdges"/><path d="M166.31,1509.3 L166.31,1784.0" stroke="#b3cce2" stroke-width="1" shape-rendering="crispEdges"/><path d="M217.62,1509.3 L217.62,1784.0" stroke="#b3cce2" stroke-width="1" shape-rendering="crispEdges"/><path d="M268.93,1509.3 L268.93,1784.0" stroke="#b3cce2" stroke-width="1" shape-rendering="crispEdges"/><path d="M320.23,1509.3 L320.23,1784.0" stroke="#b3cce2" stroke-width="1" shape-rendering="crispEdges"/><path d="M371.54,1509.3 L371.54,1784.0" stroke="#b3cce2" stroke-width="1" shape-rendering="crispEdges"/><path d="M422.85,1509.3 L422.85,1784.0" stroke="#b3cce2" stroke-width="1" shape-rendering="crispEdges"/><path d="M474.16,1509.3 L474.16,1784.0" stroke="#b3cce2" stroke-width="1" shape-rendering="crispEdges"/><path d="M525.47,1509.3 L525.47,1784.0" stroke="#b3cce2" stroke-width="1" shape-rendering="crispEdges"/><path d="M576.78,1509.3 L576.78,1784.0" stroke="#b3cce2" stroke-width="1" shape-rendering="crispEdges"/><path d="M628.08,1509.3 L628.08,1784.0" stroke="#b3cce2" stroke-width="1" shape-rendering="crispEdges"/><path d="M679.39,1509.3 L679.39,1784.0" stroke="#b3cce2" stroke-width="1" shape-rendering="crispEdges"/><rect x="130.85" y="1629.86" width="21.6" height="154.14" fill="#005d9d"/><rect x="182.16" y="1619.18" width="21.6" height="164.82" fill="#005d9d"/><rect x="233.47" y="1591.10" width="21.6" height="192.90" fill="#005d9d"/><rect x="284.78" y="1592.93" width="21.6" height="191.07" fill="#005d9d"/><rect x="336.09" y="1711.97" width="21.6" height="72.03" fill="#005d9d"/><rect x="387.40" y="1757.75" width="21.6" height="26.25" fill="#005d9d"/><rect x="438.70" y="1781.56" width="21.6" height="2.44" fill="#005d9d"/><rect x="490.01" y="1773.93" width="21.6" height="10.07" fill="#005d9d"/><rect x="541.32" y="1707.08" width="21.6" height="76.92" fill="#005d9d"/><rect x="592.63" y="1657.03" width="21.6" height="126.97" fill="#005d9d"/><rect x="643.94" y="1527.92" width="21.6" height="256.08" fill="#005d9d"/><rect x="695.25" y="1643.90" width="21.6" height="140.10" fill="#005d9d"/><path d="M115.0,1508.8 L115.0,1784.0 M109.5,1784.0 L730.7,1784.0" stroke="#005d9d" stroke-width="1.3" fill="none"/><path d="M109.5,1753.48 L115.0,1753.48" stroke="#005d9d" stroke-width="1.2"/><path d="M109.5,1722.96 L115.0,1722.96" stroke="#005d9d" stroke-width="1.2"/><path d="M109.5,1692.43 L115.0,1692.43" stroke="#005d9d" stroke-width="1.2"/><path d="M109.5,1661.91 L115.0,1661.91" stroke="#005d9d" stroke-width="1.2"/><path d="M109.5,1631.39 L115.0,1631.39" stroke="#005d9d" stroke-width="1.2"/><path d="M109.5,1600.87 L115.0,1600.87" stroke="#005d9d" stroke-width="1.2"/><path d="M109.5,1570.34 L115.0,1570.34" stroke="#005d9d" stroke-width="1.2"/><path d="M109.5,1539.82 L115.0,1539.82" stroke="#005d9d" stroke-width="1.2"/><path d="M109.5,1509.30 L115.0,1509.30" stroke="#005d9d" stroke-width="1.2"/><rect x="311.7" y="1834.8" width="8.2" height="8.2" fill="#005d9d"/></svg>
<div class="abs" style="left:37.3px;top:1870px;width:702.7px;height:150.7px;background:#b0dcff;border-radius:6px;overflow:hidden"><div class="abs" style="left:0;top:0;width:100%;height:30.7px;background:#2d9cdc"></div></div>
<svg class="abs" style="left:0;top:0" width="1200" height="2140" viewBox="0 0 1200 2140"><path d="M66.70,1915.7 C69.70,1926.7 91.70,1955.7 91.70,1966 A25,25 0 0 1 41.70,1966 C41.70,1955.7 63.70,1926.7 66.70,1915.7 Z" fill="#2d9cdc"/><path d="M125.18,1915.7 C128.18,1926.7 150.18,1955.7 150.18,1966 A25,25 0 0 1 100.18,1966 C100.18,1955.7 122.18,1926.7 125.18,1915.7 Z" fill="#2d9cdc"/><path d="M183.66,1915.7 C186.66,1926.7 208.66,1955.7 208.66,1966 A25,25 0 0 1 158.66,1966 C158.66,1955.7 180.66,1926.7 183.66,1915.7 Z" fill="#2d9cdc"/><path d="M242.14,1915.7 C245.14,1926.7 267.14,1955.7 267.14,1966 A25,25 0 0 1 217.14,1966 C217.14,1955.7 239.14,1926.7 242.14,1915.7 Z" fill="#2d9cdc"/><path d="M300.62,1915.7 C303.62,1926.7 325.62,1955.7 325.62,1966 A25,25 0 0 1 275.62,1966 C275.62,1955.7 297.62,1926.7 300.62,1915.7 Z" fill="#2d9cdc"/><path d="M359.10,1915.7 C362.10,1926.7 384.10,1955.7 384.10,1966 A25,25 0 0 1 334.10,1966 C334.10,1955.7 356.10,1926.7 359.10,1915.7 Z" fill="#eef7fe"/><path d="M417.58,1915.7 C420.58,1926.7 442.58,1955.7 442.58,1966 A25,25 0 0 1 392.58,1966 C392.58,1955.7 414.58,1926.7 417.58,1915.7 Z" fill="#eef7fe"/><path d="M476.06,1915.7 C479.06,1926.7 501.06,1955.7 501.06,1966 A25,25 0 0 1 451.06,1966 C451.06,1955.7 473.06,1926.7 476.06,1915.7 Z" fill="#eef7fe"/><path d="M534.54,1915.7 C537.54,1926.7 559.54,1955.7 559.54,1966 A25,25 0 0 1 509.54,1966 C509.54,1955.7 531.54,1926.7 534.54,1915.7 Z" fill="#2d9cdc"/><path d="M593.02,1915.7 C596.02,1926.7 618.02,1955.7 618.02,1966 A25,25 0 0 1 568.02,1966 C568.02,1955.7 590.02,1926.7 593.02,1915.7 Z" fill="#2d9cdc"/><path d="M651.50,1915.7 C654.50,1926.7 676.50,1955.7 676.50,1966 A25,25 0 0 1 626.50,1966 C626.50,1955.7 648.50,1926.7 651.50,1915.7 Z" fill="#2d9cdc"/><path d="M709.98,1915.7 C712.98,1926.7 734.98,1955.7 734.98,1966 A25,25 0 0 1 684.98,1966 C684.98,1955.7 706.98,1926.7 709.98,1915.7 Z" fill="#2d9cdc"/></svg>
<div class="abs" style="left:0;top:2083px;width:1200px;height:57px;background:#005d9d"></div><svg class="abs" style="left:0;top:2083px" width="400" height="57" viewBox="0 2083 400 57"><g fill="none" stroke="#b0dcff" stroke-width="2.8"><circle cx="58" cy="2111.4" r="17"/><circle cx="106.4" cy="2111.4" r="17"/><circle cx="155" cy="2111.4" r="17"/></g><g fill="#b0dcff"><circle cx="106.4" cy="2102" r="2.5"/><path d="M101.4,2106 h10 v8.7 h-1.8 v8.3 h-6.4 v-8.3 h-1.8 z"/><rect x="148" y="2107.2" width="14" height="2.8"/><rect x="148" y="2113.3" width="14" height="2.8"/></g></svg>
<div class="t" style="left:599.50px;top:88.60px;transform:scaleX(0.94);"><span style="left:-175.13px;top:-56.29px;font-size:66.5px;font-weight:700;color:#fff;letter-spacing:-1.328px;">EL CARPIO</span></div>
<div class="t" style="left:598.50px;top:131.30px;"><span style="left:-39.09px;top:-16.24px;font-size:19.189676000000002px;color:#fff;letter-spacing:-0.762px;">SPANIEN</span></div>
<div class="t" style="left:125.00px;top:230.60px;transform:scaleX(0.94);"><span style="left:0.00px;top:-28.04px;font-size:33.12px;font-weight:700;letter-spacing:0.347px;">AM WÄRMSTEN IM JULI</span></div>
<div class="t" style="left:214.20px;top:268.90px;"><span style="left:0.00px;top:-16.24px;font-size:19.189676000000002px;letter-spacing:0.180px;">Der Juli ist der wärmste Monat in El Carpio, in</span></div>
<div class="t" style="left:214.20px;top:292.57px;"><span style="left:0.00px;top:-16.24px;font-size:19.189676000000002px;letter-spacing:0.486px;">dem die durchschnittlichen</span></div>
<div class="t" style="left:214.20px;top:316.23px;"><span style="left:0.00px;top:-16.24px;font-size:19.189676000000002px;letter-spacing:0.419px;">Höchsttemperaturen 37°C und die</span></div>
<div class="t" style="left:214.20px;top:339.90px;"><span style="left:0.00px;top:-16.24px;font-size:19.189676000000002px;letter-spacing:0.440px;">Mindesttemperaturen 19°C erreichen.</span></div>
<div class="t" style="left:125.00px;top:420.80px;transform:scaleX(0.94);"><span style="left:0.00px;top:-28.04px;font-size:33.12px;font-weight:700;letter-spacing:-0.051px;">AM KÄLTESTEN IM JANUAR</span></div>
<div class="t" style="left:214.20px;top:462.50px;"><span style="left:0.00px;top:-16.24px;font-size:19.189676000000002px;letter-spacing:0.115px;">Der kälteste Monat des Jahres ist dagegen</span></div>
<div class="t" style="left:214.20px;top:486.17px;"><span style="left:0.00px;top:-16.24px;font-size:19.189676000000002px;letter-spacing:0.410px;">der Januar mit Höchsttemperaturen von</span></div>
<div class="t" style="left:214.20px;top:509.83px;"><span style="left:0.00px;top:-16.24px;font-size:19.189676000000002px;letter-spacing:0.349px;">14°C und Tiefsttemperaturen um 3°C.</span></div>
<div class="t" style="left:1153.90px;top:235.20px;transform:rotate(90deg) scaleX(0.86);"><span style="left:0.00px;top:-17.69px;font-size:20.9px;font-weight:700;letter-spacing:-0.029px;">37° 56' 25" N — 4° 29' 56" W</span></div>
<div class="t" style="left:1136.50px;top:235.50px;transform:rotate(90deg);"><span style="left:0.00px;top:-11.60px;font-size:13.706324px;letter-spacing:-0.530px;">ANDALUSIEN</span></div>
<div class="t" style="left:600.00px;top:663.30px;transform:scaleX(0.94);"><span style="left:-147.59px;top:-37.38px;font-size:44.160345px;font-weight:700;letter-spacing:-0.910px;">TEMPERATUR</span></div>
<div class="t" style="left:600.00px;top:1418.30px;transform:scaleX(0.94);"><span style="left:-169.60px;top:-37.38px;font-size:44.160345px;font-weight:700;letter-spacing:-1.280px;">NIEDERSCHLAG</span></div>
<div class="t" style="left:94.50px;top:1029.40px;"><span style="left:-18.90px;top:-9.86px;font-size:11.650324000000001px;letter-spacing:-0.324px;">0°C</span></div>
<div class="t" style="left:94.50px;top:994.99px;"><span style="left:-18.90px;top:-9.86px;font-size:11.650324000000001px;letter-spacing:-0.324px;">5°C</span></div>
<div class="t" style="left:94.50px;top:960.57px;"><span style="left:-25.32px;top:-9.86px;font-size:11.650324000000001px;letter-spacing:-0.232px;">10°C</span></div>
<div class="t" style="left:94.50px;top:926.16px;"><span style="left:-25.32px;top:-9.86px;font-size:11.650324000000001px;letter-spacing:-0.232px;">15°C</span></div>
<div class="t" style="left:94.50px;top:891.75px;"><span style="left:-25.32px;top:-9.86px;font-size:11.650324000000001px;letter-spacing:-0.232px;">20°C</span></div>
<div class="t" style="left:94.50px;top:857.34px;"><span style="left:-25.32px;top:-9.86px;font-size:11.650324000000001px;letter-spacing:-0.232px;">25°C</span></div>
<div class="t" style="left:94.50px;top:822.93px;"><span style="left:-25.32px;top:-9.86px;font-size:11.650324000000001px;letter-spacing:-0.232px;">30°C</span></div>
<div class="t" style="left:94.50px;top:788.51px;"><span style="left:-25.32px;top:-9.86px;font-size:11.650324000000001px;letter-spacing:-0.232px;">35°C</span></div>
<div class="t" style="left:94.50px;top:754.10px;"><span style="left:-25.32px;top:-9.86px;font-size:11.650324000000001px;letter-spacing:-0.232px;">40°C</span></div>
<div class="t" style="left:129.40px;top:1046.60px;"><span style="left:-10.10px;top:-11.60px;font-size:13.706324px;letter-spacing:-0.941px;">Jan</span></div>
<div class="t" style="left:181.46px;top:1046.60px;"><span style="left:-11.48px;top:-11.60px;font-size:13.706324px;letter-spacing:-0.316px;">Feb</span></div>
<div class="t" style="left:233.52px;top:1046.60px;"><span style="left:-12.27px;top:-11.60px;font-size:13.706324px;letter-spacing:0.481px;">Mär</span></div>
<div class="t" style="left:285.58px;top:1046.60px;"><span style="left:-10.94px;top:-11.60px;font-size:13.706324px;letter-spacing:0.283px;">Apr</span></div>
<div class="t" style="left:337.64px;top:1046.60px;"><span style="left:-11.32px;top:-11.60px;font-size:13.706324px;letter-spacing:0.292px;">Mai</span></div>
<div class="t" style="left:389.70px;top:1046.60px;"><span style="left:-10.36px;top:-11.60px;font-size:13.706324px;letter-spacing:-0.684px;">Jun</span></div>
<div class="t" style="left:441.76px;top:1046.60px;"><span style="left:-7.98px;top:-11.60px;font-size:13.706324px;letter-spacing:-0.769px;">Jul</span></div>
<div class="t" style="left:493.82px;top:1046.60px;"><span style="left:-12.07px;top:-11.60px;font-size:13.706324px;letter-spacing:-0.105px;">Aug</span></div>
<div class="t" style="left:545.88px;top:1046.60px;"><span style="left:-11.75px;top:-11.60px;font-size:13.706324px;letter-spacing:-0.425px;">Sep</span></div>
<div class="t" style="left:597.94px;top:1046.60px;"><span style="left:-10.95px;top:-11.60px;font-size:13.706324px;letter-spacing:0.301px;">Okt</span></div>
<div class="t" style="left:650.00px;top:1046.60px;"><span style="left:-12.36px;top:-11.60px;font-size:13.706324px;letter-spacing:0.188px;">Nov</span></div>
<div class="t" style="left:702.06px;top:1046.60px;"><span style="left:-11.91px;top:-11.60px;font-size:13.706324px;letter-spacing:-0.263px;">Dez</span></div>
<div class="t" style="left:236.50px;top:1084.30px;"><span style="left:0.00px;top:-11.60px;font-size:13.706324px;letter-spacing:0.388px;">Maximale Temperatur</span></div>
<div class="t" style="left:443.30px;top:1084.30px;"><span style="left:0.00px;top:-11.60px;font-size:13.706324px;letter-spacing:0.438px;">Minimale Temperatur</span></div>
<div class="t" style="left:50.50px;top:889.50px;transform:rotate(-90deg);"><span style="left:-36.97px;top:-11.60px;font-size:13.706324px;letter-spacing:0.524px;">Temperatur</span></div>
<div class="t" style="left:784.30px;top:763.70px;transform:scaleX(0.94);"><span style="left:0.00px;top:-16.35px;font-size:19.320345px;font-weight:700;letter-spacing:0.035px;">DURCHSCHNITTLICHE JÄHRLICHE</span></div>
<div class="t" style="left:784.50px;top:786.90px;transform:scaleX(0.94);"><span style="left:0.00px;top:-16.35px;font-size:19.320345px;font-weight:700;letter-spacing:-0.132px;">TEMPERATUR</span></div>
<div class="t" style="left:785.50px;top:830.80px;"><span style="left:0.00px;top:-16.24px;font-size:19.189676000000002px;letter-spacing:0.311px;">• Die durchschnittliche jährliche</span></div>
<div class="t" style="left:785.50px;top:854.61px;"><span style="left:0.00px;top:-16.24px;font-size:19.189676000000002px;letter-spacing:0.341px;">Höchsttemperatur beträgt 24.2°C</span></div>
<div class="t" style="left:785.50px;top:902.23px;"><span style="left:0.00px;top:-16.24px;font-size:19.189676000000002px;letter-spacing:0.311px;">• Die durchschnittliche jährliche</span></div>
<div class="t" style="left:785.50px;top:926.04px;"><span style="left:0.00px;top:-16.24px;font-size:19.189676000000002px;letter-spacing:0.397px;">Mindesttemperatur beträgt 10.4°C</span></div>
<div class="t" style="left:785.50px;top:973.65px;"><span style="left:0.00px;top:-16.24px;font-size:19.189676000000002px;letter-spacing:0.369px;">• Die durchschnittliche Tagestemperatur</span></div>
<div class="t" style="left:785.50px;top:997.46px;"><span style="left:0.00px;top:-16.24px;font-size:19.189676000000002px;letter-spacing:-0.011px;">für das ganze Jahr beträgt 17.3°C</span></div>
<div class="t" style="left:598.50px;top:1155.00px;transform:scaleX(0.94);"><span style="left:-138.64px;top:-18.69px;font-size:22.079654999999995px;font-weight:700;letter-spacing:0.378px;">TÄGLICHE TEMPERATUR</span></div>
<div class="t" style="left:85.78px;top:1213.00px;transform:scaleX(0.94);"><span style="left:-18.58px;top:-16.35px;font-size:19.320345px;font-weight:700;color:#7f7165;letter-spacing:-0.740px;">JAN</span></div>
<div class="t" style="left:87.08px;top:1271.30px;"><span style="left:-13.63px;top:-23.28px;font-size:27.5px;font-weight:700;color:#7f7165;letter-spacing:0.971px;">8°</span></div>
<div class="t" style="left:178.95px;top:1213.00px;transform:scaleX(0.94);"><span style="left:-18.23px;top:-16.35px;font-size:19.320345px;font-weight:700;color:#7f6f62;letter-spacing:-1.087px;">FEB</span></div>
<div class="t" style="left:180.25px;top:1271.30px;"><span style="left:-13.63px;top:-23.28px;font-size:27.5px;font-weight:700;color:#7f6f62;letter-spacing:0.971px;">9°</span></div>
<div class="t" style="left:272.12px;top:1213.00px;transform:scaleX(0.94);"><span style="left:-22.51px;top:-16.35px;font-size:19.320345px;font-weight:700;color:#7f644c;letter-spacing:0.517px;">MÄR</span></div>
<div class="t" style="left:273.42px;top:1271.30px;"><span style="left:-21.72px;top:-23.28px;font-size:27.5px;font-weight:700;color:#7f644c;letter-spacing:0.927px;">12°</span></div>
<div class="t" style="left:365.28px;top:1213.00px;transform:scaleX(0.94);"><span style="left:-19.89px;top:-16.35px;font-size:19.320345px;font-weight:700;color:#7f5937;letter-spacing:-0.500px;">APR</span></div>
<div class="t" style="left:366.58px;top:1271.30px;"><span style="left:-21.72px;top:-23.28px;font-size:27.5px;font-weight:700;color:#7f5937;letter-spacing:0.927px;">15°</span></div>
<div class="t" style="left:458.45px;top:1213.00px;transform:scaleX(0.94);"><span style="left:-18.90px;top:-16.35px;font-size:19.320345px;font-weight:700;color:#7f4c19;letter-spacing:1.198px;">MAI</span></div>
<div class="t" style="left:459.75px;top:1271.30px;"><span style="left:-21.72px;top:-23.28px;font-size:27.5px;font-weight:700;color:#7f4c19;letter-spacing:0.927px;">19°</span></div>
<div class="t" style="left:551.62px;top:1213.00px;transform:scaleX(0.94);"><span style="left:-19.02px;top:-16.35px;font-size:19.320345px;font-weight:700;color:#7f3d02;letter-spacing:-0.304px;">JUN</span></div>
<div class="t" style="left:552.92px;top:1271.30px;"><span style="left:-21.72px;top:-23.28px;font-size:27.5px;font-weight:700;color:#7f3d02;letter-spacing:0.927px;">24°</span></div>
<div class="t" style="left:644.78px;top:1213.00px;transform:scaleX(0.94);"><span style="left:-17.02px;top:-16.35px;font-size:19.320345px;font-weight:700;color:#7f2e02;letter-spacing:-1.232px;">JUL</span></div>
<div class="t" style="left:646.08px;top:1271.30px;"><span style="left:-21.72px;top:-23.28px;font-size:27.5px;font-weight:700;color:#7f2e02;letter-spacing:0.927px;">28°</span></div>
<div class="t" style="left:737.95px;top:1213.00px;transform:scaleX(0.94);"><span style="left:-21.52px;top:-16.35px;font-size:19.320345px;font-weight:700;color:#7f2e02;letter-spacing:0.057px;">AUG</span></div>
<div class="t" style="left:739.25px;top:1271.30px;"><span style="left:-21.72px;top:-23.28px;font-size:27.5px;font-weight:700;color:#7f2e02;letter-spacing:0.927px;">28°</span></div>
<div class="t" style="left:831.12px;top:1213.00px;transform:scaleX(0.94);"><span style="left:-17.95px;top:-16.35px;font-size:19.320345px;font-weight:700;color:#7f3d02;letter-spacing:-1.376px;">SEP</span></div>
<div class="t" style="left:832.42px;top:1271.30px;"><span style="left:-21.72px;top:-23.28px;font-size:27.5px;font-weight:700;color:#7f3d02;letter-spacing:0.927px;">24°</span></div>
<div class="t" style="left:924.28px;top:1213.00px;transform:scaleX(0.94);"><span style="left:-20.29px;top:-16.35px;font-size:19.320345px;font-weight:700;color:#7f4c19;letter-spacing:-0.091px;">OKT</span></div>
<div class="t" style="left:925.58px;top:1271.30px;"><span style="left:-21.72px;top:-23.28px;font-size:27.5px;font-weight:700;color:#7f4c19;letter-spacing:0.927px;">19°</span></div>
<div class="t" style="left:1017.45px;top:1213.00px;transform:scaleX(0.94);"><span style="left:-21.93px;top:-16.35px;font-size:19.320345px;font-weight:700;color:#7f644c;letter-spacing:0.999px;">NOV</span></div>
<div class="t" style="left:1018.75px;top:1271.30px;"><span style="left:-21.72px;top:-23.28px;font-size:27.5px;font-weight:700;color:#7f644c;letter-spacing:0.927px;">12°</span></div>
<div class="t" style="left:1110.62px;top:1213.00px;transform:scaleX(0.94);"><span style="left:-18.88px;top:-16.35px;font-size:19.320345px;font-weight:700;color:#7f6f62;letter-spacing:-0.434px;">DEZ</span></div>
<div class="t" style="left:1111.92px;top:1271.30px;"><span style="left:-13.63px;top:-23.28px;font-size:27.5px;font-weight:700;color:#7f6f62;letter-spacing:0.971px;">9°</span></div>
<div class="t" style="left:104.50px;top:1788.10px;"><span style="left:-30.27px;top:-9.86px;font-size:11.650324000000001px;letter-spacing:0.388px;">0 mm</span></div>
<div class="t" style="left:104.50px;top:1757.58px;"><span style="left:-36.85px;top:-9.86px;font-size:11.650324000000001px;letter-spacing:0.319px;">10 mm</span></div>
<div class="t" style="left:104.50px;top:1727.06px;"><span style="left:-36.85px;top:-9.86px;font-size:11.650324000000001px;letter-spacing:0.319px;">20 mm</span></div>
<div class="t" style="left:104.50px;top:1696.53px;"><span style="left:-36.85px;top:-9.86px;font-size:11.650324000000001px;letter-spacing:0.319px;">30 mm</span></div>
<div class="t" style="left:104.50px;top:1666.01px;"><span style="left:-36.85px;top:-9.86px;font-size:11.650324000000001px;letter-spacing:0.319px;">40 mm</span></div>
<div class="t" style="left:104.50px;top:1635.49px;"><span style="left:-36.85px;top:-9.86px;font-size:11.650324000000001px;letter-spacing:0.319px;">50 mm</span></div>
<div class="t" style="left:104.50px;top:1604.97px;"><span style="left:-36.85px;top:-9.86px;font-size:11.650324000000001px;letter-spacing:0.319px;">60 mm</span></div>
<div class="t" style="left:104.50px;top:1574.44px;"><span style="left:-36.85px;top:-9.86px;font-size:11.650324000000001px;letter-spacing:0.319px;">70 mm</span></div>
<div class="t" style="left:104.50px;top:1543.92px;"><span style="left:-36.85px;top:-9.86px;font-size:11.650324000000001px;letter-spacing:0.319px;">80 mm</span></div>
<div class="t" style="left:104.50px;top:1513.40px;"><span style="left:-36.85px;top:-9.86px;font-size:11.650324000000001px;letter-spacing:0.319px;">90 mm</span></div>
<div class="t" style="left:139.35px;top:1805.80px;"><span style="left:-10.10px;top:-11.60px;font-size:13.706324px;letter-spacing:-0.941px;">Jan</span></div>
<div class="t" style="left:190.66px;top:1805.80px;"><span style="left:-11.48px;top:-11.60px;font-size:13.706324px;letter-spacing:-0.316px;">Feb</span></div>
<div class="t" style="left:241.97px;top:1805.80px;"><span style="left:-12.27px;top:-11.60px;font-size:13.706324px;letter-spacing:0.481px;">Mär</span></div>
<div class="t" style="left:293.28px;top:1805.80px;"><span style="left:-10.94px;top:-11.60px;font-size:13.706324px;letter-spacing:0.283px;">Apr</span></div>
<div class="t" style="left:344.59px;top:1805.80px;"><span style="left:-11.32px;top:-11.60px;font-size:13.706324px;letter-spacing:0.292px;">Mai</span></div>
<div class="t" style="left:395.90px;top:1805.80px;"><span style="left:-10.36px;top:-11.60px;font-size:13.706324px;letter-spacing:-0.684px;">Jun</span></div>
<div class="t" style="left:447.20px;top:1805.80px;"><span style="left:-7.98px;top:-11.60px;font-size:13.706324px;letter-spacing:-0.769px;">Jul</span></div>
<div class="t" style="left:498.51px;top:1805.80px;"><span style="left:-12.07px;top:-11.60px;font-size:13.706324px;letter-spacing:-0.105px;">Aug</span></div>
<div class="t" style="left:549.82px;top:1805.80px;"><span style="left:-11.75px;top:-11.60px;font-size:13.706324px;letter-spacing:-0.425px;">Sep</span></div>
<div class="t" style="left:601.13px;top:1805.80px;"><span style="left:-10.95px;top:-11.60px;font-size:13.706324px;letter-spacing:0.301px;">Okt</span></div>
<div class="t" style="left:652.44px;top:1805.80px;"><span style="left:-12.36px;top:-11.60px;font-size:13.706324px;letter-spacing:0.188px;">Nov</span></div>
<div class="t" style="left:703.75px;top:1805.80px;"><span style="left:-11.91px;top:-11.60px;font-size:13.706324px;letter-spacing:-0.263px;">Dez</span></div>
<div class="t" style="left:328.30px;top:1843.60px;"><span style="left:0.00px;top:-11.60px;font-size:13.706324px;letter-spacing:0.180px;">Niederschlagssumme</span></div>
<div class="t" style="left:50.50px;top:1649.00px;transform:rotate(-90deg);"><span style="left:-40.63px;top:-11.60px;font-size:13.706324px;letter-spacing:0.125px;">Niederschlag</span></div>
<div class="t" style="left:388.70px;top:1892.70px;transform:scaleX(0.94);"><span style="left:-164.48px;top:-14.02px;font-size:16.56px;font-weight:700;color:#fff;letter-spacing:-0.128px;">NIEDERSCHLAGSWAHRSCHEINLICHKEIT</span></div>
<div class="t" style="left:66.20px;top:1972.70px;"><span style="left:-18.25px;top:-15.49px;font-size:18.3px;font-weight:700;color:#fff;letter-spacing:-0.043px;">20%</span></div>
<div class="t" style="left:65.20px;top:2009.90px;transform:scaleX(0.94);"><span style="left:-12.34px;top:-10.86px;font-size:12.834px;font-weight:700;letter-spacing:-0.493px;">JAN</span></div>
<div class="t" style="left:124.68px;top:1972.70px;"><span style="left:-18.25px;top:-15.49px;font-size:18.3px;font-weight:700;color:#fff;letter-spacing:-0.043px;">22%</span></div>
<div class="t" style="left:123.68px;top:2009.90px;transform:scaleX(0.94);"><span style="left:-12.11px;top:-10.86px;font-size:12.834px;font-weight:700;letter-spacing:-0.727px;">FEB</span></div>
<div class="t" style="left:183.16px;top:1972.70px;"><span style="left:-18.25px;top:-15.49px;font-size:18.3px;font-weight:700;color:#fff;letter-spacing:-0.043px;">24%</span></div>
<div class="t" style="left:182.16px;top:2009.90px;transform:scaleX(0.94);"><span style="left:-14.95px;top:-10.86px;font-size:12.834px;font-weight:700;letter-spacing:0.343px;">MÄR</span></div>
<div class="t" style="left:241.64px;top:1972.70px;"><span style="left:-18.25px;top:-15.49px;font-size:18.3px;font-weight:700;color:#fff;letter-spacing:-0.043px;">22%</span></div>
<div class="t" style="left:240.64px;top:2009.90px;transform:scaleX(0.94);"><span style="left:-13.21px;top:-10.86px;font-size:12.834px;font-weight:700;letter-spacing:-0.334px;">APR</span></div>
<div class="t" style="left:300.12px;top:1972.70px;"><span style="left:-18.25px;top:-15.49px;font-size:18.3px;font-weight:700;color:#fff;letter-spacing:-0.043px;">10%</span></div>
<div class="t" style="left:299.12px;top:2009.90px;transform:scaleX(0.94);"><span style="left:-12.55px;top:-10.86px;font-size:12.834px;font-weight:700;letter-spacing:0.797px;">MAI</span></div>
<div class="t" style="left:358.60px;top:1972.70px;"><span style="left:-13.18px;top:-15.49px;font-size:18.3px;font-weight:700;letter-spacing:-0.082px;">3%</span></div>
<div class="t" style="left:357.60px;top:2009.90px;transform:scaleX(0.94);"><span style="left:-12.63px;top:-10.86px;font-size:12.834px;font-weight:700;letter-spacing:-0.203px;">JUN</span></div>
<div class="t" style="left:417.08px;top:1972.70px;"><span style="left:-13.18px;top:-15.49px;font-size:18.3px;font-weight:700;letter-spacing:-0.082px;">1%</span></div>
<div class="t" style="left:416.08px;top:2009.90px;transform:scaleX(0.94);"><span style="left:-11.31px;top:-10.86px;font-size:12.834px;font-weight:700;letter-spacing:-0.820px;">JUL</span></div>
<div class="t" style="left:475.56px;top:1972.70px;"><span style="left:-13.18px;top:-15.49px;font-size:18.3px;font-weight:700;letter-spacing:-0.082px;">1%</span></div>
<div class="t" style="left:474.56px;top:2009.90px;transform:scaleX(0.94);"><span style="left:-14.29px;top:-10.86px;font-size:12.834px;font-weight:700;letter-spacing:0.036px;">AUG</span></div>
<div class="t" style="left:534.04px;top:1972.70px;"><span style="left:-13.18px;top:-15.49px;font-size:18.3px;font-weight:700;color:#fff;letter-spacing:-0.082px;">8%</span></div>
<div class="t" style="left:533.04px;top:2009.90px;transform:scaleX(0.94);"><span style="left:-11.92px;top:-10.86px;font-size:12.834px;font-weight:700;letter-spacing:-0.912px;">SEP</span></div>
<div class="t" style="left:592.52px;top:1972.70px;"><span style="left:-18.25px;top:-15.49px;font-size:18.3px;font-weight:700;color:#fff;letter-spacing:-0.043px;">14%</span></div>
<div class="t" style="left:591.52px;top:2009.90px;transform:scaleX(0.94);"><span style="left:-13.48px;top:-10.86px;font-size:12.834px;font-weight:700;letter-spacing:-0.065px;">OKT</span></div>
<div class="t" style="left:651.00px;top:1972.70px;"><span style="left:-18.25px;top:-15.49px;font-size:18.3px;font-weight:700;color:#fff;letter-spacing:-0.043px;">24%</span></div>
<div class="t" style="left:650.00px;top:2009.90px;transform:scaleX(0.94);"><span style="left:-14.57px;top:-10.86px;font-size:12.834px;font-weight:700;letter-spacing:0.661px;">NOV</span></div>
<div class="t" style="left:709.48px;top:1972.70px;"><span style="left:-18.25px;top:-15.49px;font-size:18.3px;font-weight:700;color:#fff;letter-spacing:-0.043px;">16%</span></div>
<div class="t" style="left:708.48px;top:2009.90px;transform:scaleX(0.94);"><span style="left:-12.54px;top:-10.86px;font-size:12.834px;font-weight:700;letter-spacing:-0.293px;">DEZ</span></div>
<div class="t" style="left:785.50px;top:1522.20px;"><span style="left:0.00px;top:-16.24px;font-size:19.189676000000002px;letter-spacing:0.334px;">Die durchschnittliche jährliche</span></div>
<div class="t" style="left:785.50px;top:1545.91px;"><span style="left:0.00px;top:-16.24px;font-size:19.189676000000002px;letter-spacing:0.146px;">Niederschlagsmenge in El Carpio beträgt</span></div>
<div class="t" style="left:785.50px;top:1569.63px;"><span style="left:0.00px;top:-16.24px;font-size:19.189676000000002px;letter-spacing:0.209px;">etwa 462 mm. Der Unterschied zwischen</span></div>
<div class="t" style="left:785.50px;top:1593.35px;"><span style="left:0.00px;top:-16.24px;font-size:19.189676000000002px;letter-spacing:0.233px;">der höchsten Niederschlagsmenge</span></div>
<div class="t" style="left:785.50px;top:1617.06px;"><span style="left:0.00px;top:-16.24px;font-size:19.189676000000002px;letter-spacing:0.148px;">(November) und der niedrigsten (Juli)</span></div>
<div class="t" style="left:785.50px;top:1640.78px;"><span style="left:0.00px;top:-16.24px;font-size:19.189676000000002px;letter-spacing:0.414px;">beträgt 83 mm.</span></div>
<div class="t" style="left:785.50px;top:1688.20px;"><span style="left:0.00px;top:-16.24px;font-size:19.189676000000002px;letter-spacing:0.227px;">Die meisten Niederschläge fallen im</span></div>
<div class="t" style="left:785.50px;top:1711.92px;"><span style="left:0.00px;top:-16.24px;font-size:19.189676000000002px;letter-spacing:0.471px;">November, mit einer monatlichen</span></div>
<div class="t" style="left:785.50px;top:1735.63px;"><span style="left:0.00px;top:-16.24px;font-size:19.189676000000002px;letter-spacing:0.227px;">Niederschlagsmenge von 84 mm in</span></div>
<div class="t" style="left:785.50px;top:1759.35px;"><span style="left:0.00px;top:-16.24px;font-size:19.189676000000002px;letter-spacing:0.377px;">diesem Zeitraum und einer</span></div>
<div class="t" style="left:785.50px;top:1783.07px;"><span style="left:0.00px;top:-16.24px;font-size:19.189676000000002px;letter-spacing:0.251px;">Niederschlagswahrscheinlichkeit von</span></div>
<div class="t" style="left:785.50px;top:1806.78px;"><span style="left:0.00px;top:-16.24px;font-size:19.189676000000002px;letter-spacing:0.073px;">etwa 24%. Die geringsten</span></div>
<div class="t" style="left:785.50px;top:1830.50px;"><span style="left:0.00px;top:-16.24px;font-size:19.189676000000002px;letter-spacing:0.202px;">Niederschlagsmengen werden dagegen</span></div>
<div class="t" style="left:785.50px;top:1854.21px;"><span style="left:0.00px;top:-16.24px;font-size:19.189676000000002px;letter-spacing:0.330px;">im Juli mit durchschnittlich 0.8 mm und</span></div>
<div class="t" style="left:785.50px;top:1877.93px;"><span style="left:0.00px;top:-16.24px;font-size:19.189676000000002px;letter-spacing:0.209px;">einer Wahrscheinlichkeit von 1%</span></div>
<div class="t" style="left:785.50px;top:1901.64px;"><span style="left:0.00px;top:-16.24px;font-size:19.189676000000002px;letter-spacing:0.196px;">verzeichnet.</span></div>
<div class="t" style="left:785.00px;top:1953.70px;transform:scaleX(0.94);"><span style="left:0.00px;top:-16.35px;font-size:19.320345px;font-weight:700;letter-spacing:-0.014px;">NIEDERSCHLAG NACH TYP</span></div>
<div class="t" style="left:785.50px;top:1986.00px;"><span style="left:0.00px;top:-16.24px;font-size:19.189676000000002px;letter-spacing:-0.337px;">• Regen: 100%</span></div>
<div class="t" style="left:785.50px;top:2015.30px;"><span style="left:0.00px;top:-16.24px;font-size:19.189676000000002px;letter-spacing:-0.347px;">• Schnee: 0%</span></div>
<div class="t" style="left:58.20px;top:2116.90px;"><span style="left:-11.22px;top:-13.04px;font-size:15.4px;font-weight:700;color:#b0dcff;font-family:'DejaVu Sans', sans-serif;letter-spacing:-0.147px;">CC</span></div>
<div class="t" style="left:185.20px;top:2118.00px;"><span style="left:0.00px;top:-13.12px;font-size:15.5px;font-weight:700;color:#b0dcff;font-family:'DejaVu Sans', sans-serif;letter-spacing:0.109px;">CC BY-ND 4.0</span></div>
<div class="t" style="left:1158.00px;top:2119.40px;transform:scaleX(0.94);"><span style="left:-189.81px;top:-19.27px;font-size:22.77px;font-weight:700;color:#fff;letter-spacing:-0.274px;">METEOATLAS.DE</span></div>
<div id="frame"></div></div></body></html>
